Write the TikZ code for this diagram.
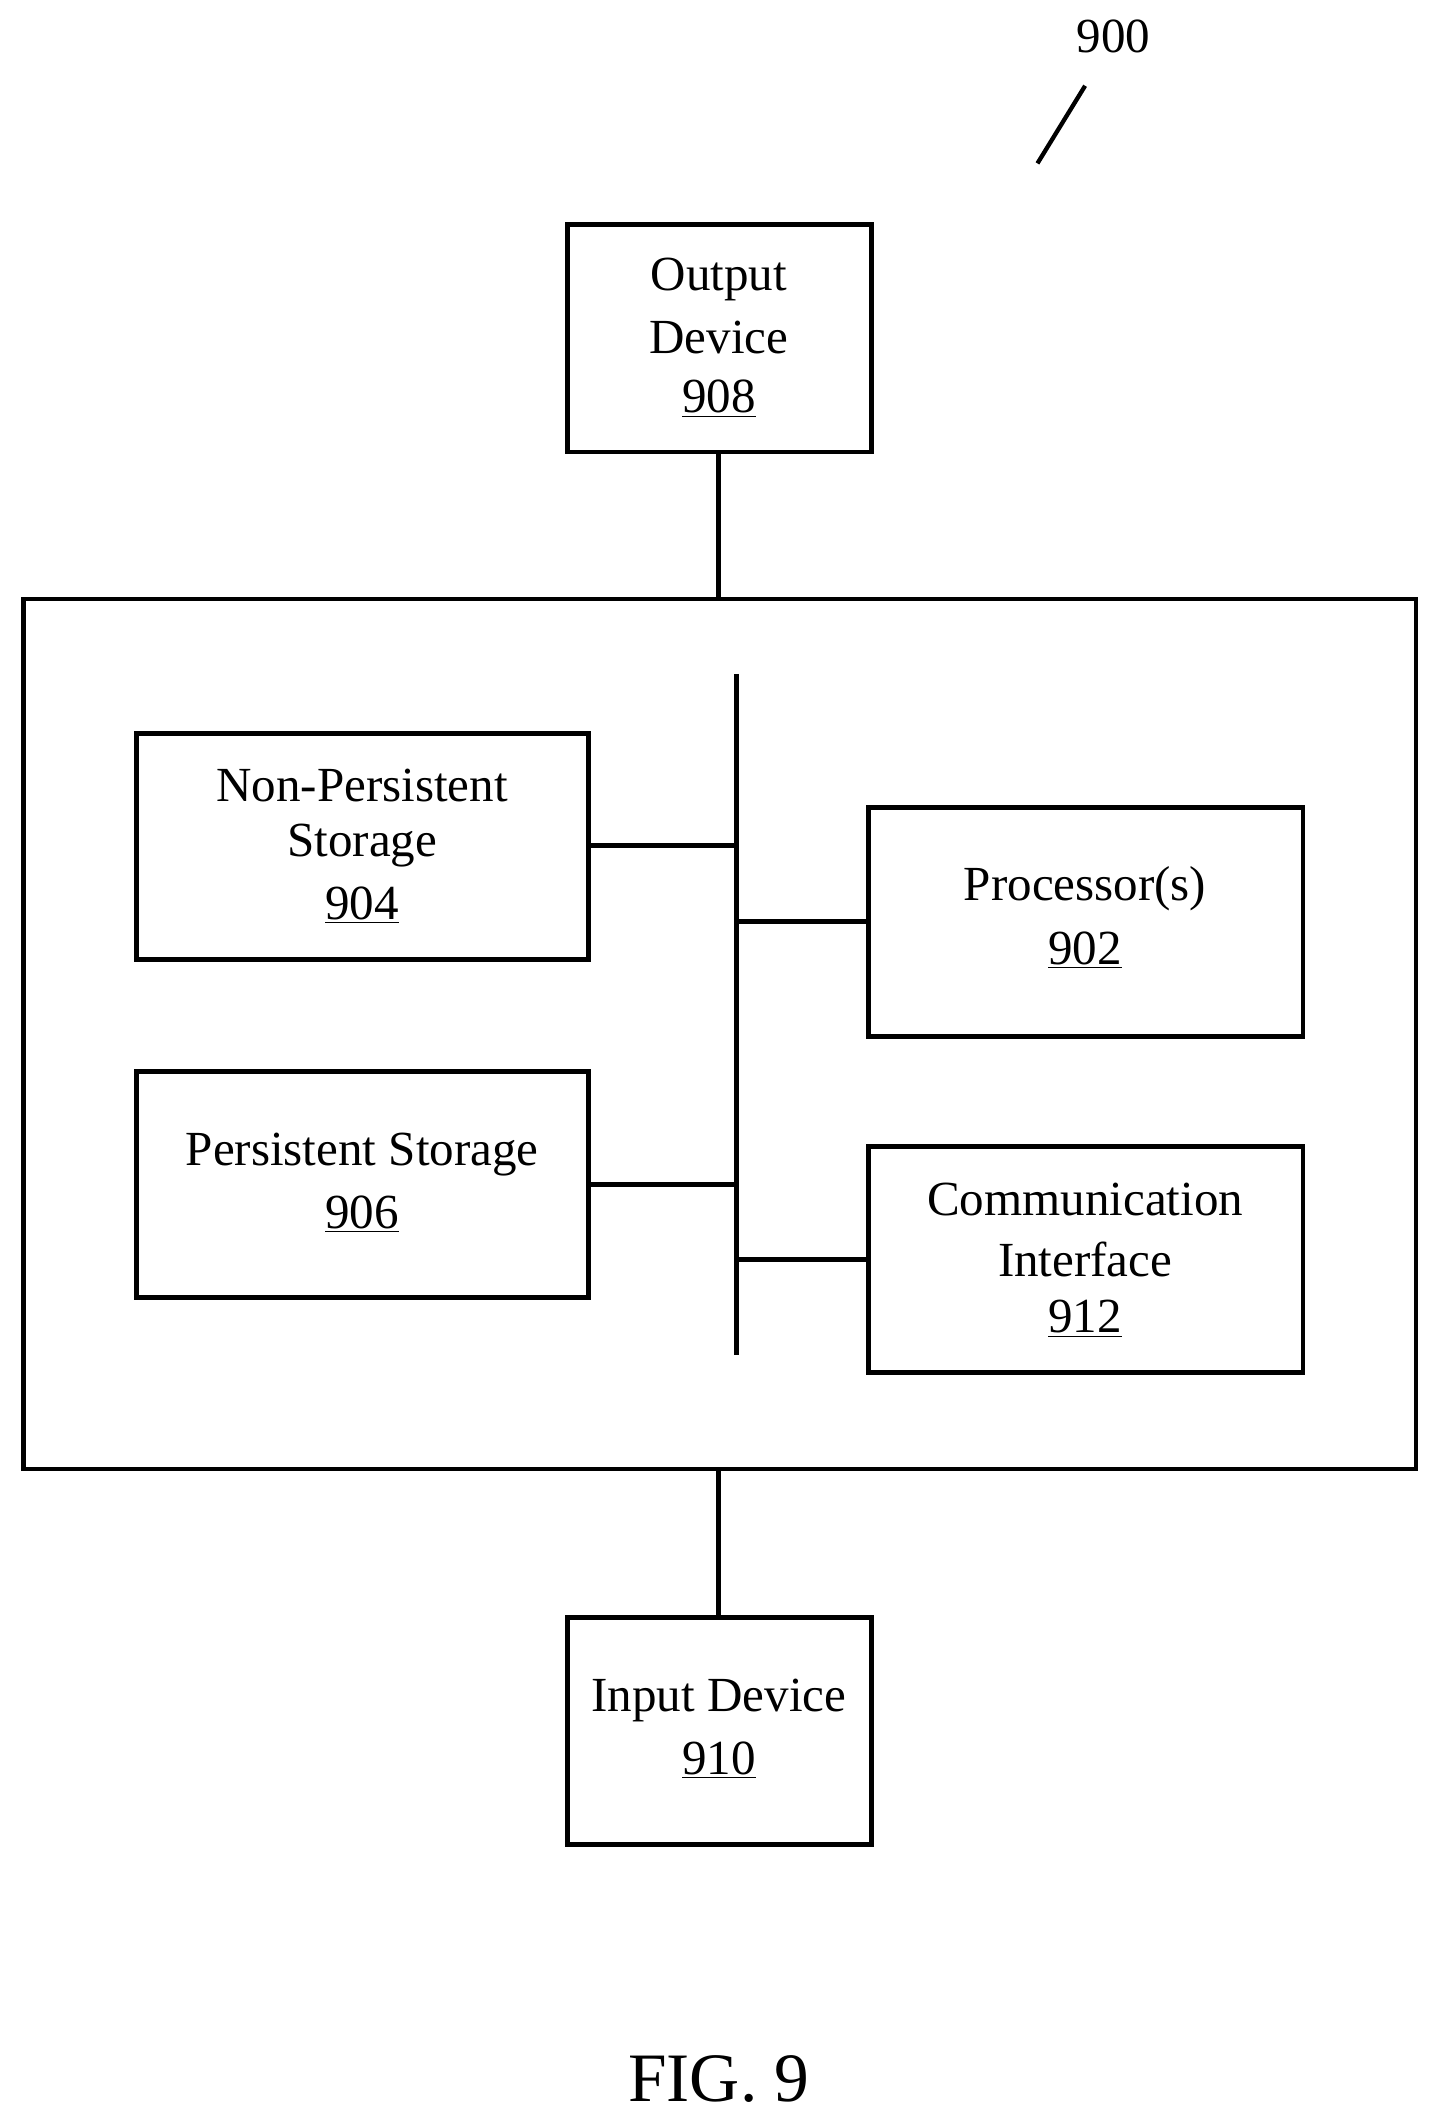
\documentclass[tikz,border=0pt]{standalone}
\usepackage{fontspec}
\setmainfont{Liberation Serif}
\begin{document}
\begin{tikzpicture}[x=0.02cm,y=-0.02cm,
  box/.style={draw,line width=2pt,inner sep=0pt},
  lbl/.style={font=\fontsize{20.5}{24}\selectfont,align=center},
  ln/.style={line width=2pt}]
\useasboundingbox (0,0) rectangle (1054,1563);
\node[lbl] (n900) at (818,27) {900};
\coordinate (a1) at (797,63); \coordinate (a2) at (762,120);
\draw[line width=1.8pt] (a1) -- (a2);
% boxes
\draw[box] (417,165) rectangle (640,332);
\node[lbl] at (528,205) {Output}; \node[lbl] at (528,248) {Device}; \node[lbl] at (528,293) {\underline{908}};
\draw[box] (17,440) rectangle (1040,1079);
\coordinate (bt) at (541,495); \coordinate (bb) at (541,995);
\draw[ln] (bt) -- (bb);
\draw[box] (100,539) rectangle (432,705);
\node[lbl] at (266,577) {Non-Persistent}; \node[lbl] at (266,621) {Storage}; \node[lbl] at (266,665) {\underline{904}};
\draw[box] (638,593) rectangle (957,761);
\node[lbl] at (797,653) {Processor(s)}; \node[lbl] at (797,698) {\underline{902}};
\draw[box] (100,787) rectangle (432,953);
\node[lbl] at (266,848) {Persistent Storage}; \node[lbl] at (266,892) {\underline{906}};
\draw[box] (638,842) rectangle (957,1008);
\node[lbl] at (797,881) {Communication}; \node[lbl] at (797,925) {Interface}; \node[lbl] at (797,969) {\underline{912}};
\draw[box] (417,1188) rectangle (640,1355);
\node[lbl] at (528,1249) {Input Device}; \node[lbl] at (528,1293) {\underline{910}};
% connectors
\coordinate (c1) at (528,332); \coordinate (c2) at (528,440);
\draw[ln] (c1) -- (c2);
\coordinate (c3) at (528,1079); \coordinate (c4) at (528,1188);
\draw[ln] (c3) -- (c4);
\coordinate (p1) at (432,621); \coordinate (q1) at (541,621); \draw[ln] (p1) -- (q1);
\coordinate (p2) at (638,677); \coordinate (q2) at (541,677); \draw[ln] (p2) -- (q2);
\coordinate (p3) at (432,870); \coordinate (q3) at (541,870); \draw[ln] (p3) -- (q3);
\coordinate (p4) at (638,925); \coordinate (q4) at (541,925); \draw[ln] (p4) -- (q4);
\node[font=\fontsize{29}{34}\selectfont] (fig) at (528,1527) {FIG. 9};
\end{tikzpicture}
\end{document}
